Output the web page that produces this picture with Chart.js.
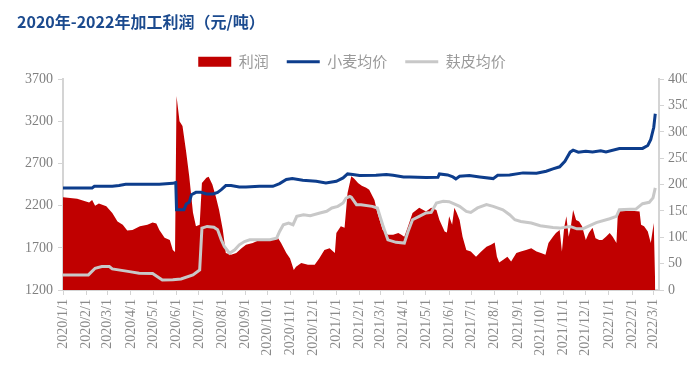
<!DOCTYPE html>
<html><head><meta charset="utf-8">
<script src="https://cdn.jsdelivr.net/npm/chart.js@4"></script>
<style>html,body{margin:0;padding:0;background:#fff;}</style>
</head><body>
<canvas id="c" width="700" height="374"></canvas>
<script>
const tickLabels = ['2020/1/1','2020/2/1','2020/3/1','2020/4/1','2020/5/1','2020/6/1','2020/7/1','2020/8/1','2020/9/1','2020/10/1','2020/11/1','2020/12/1',
  '2021/1/1','2021/2/1','2021/3/1','2021/4/1','2021/5/1','2021/6/1','2021/7/1','2021/8/1','2021/9/1','2021/10/1','2021/11/1','2021/12/1',
  '2022/1/1','2022/2/1','2022/3/1'];

const profitDates = ['2020-01-01','2020-01-20','2020-02-05','2020-02-09','2020-02-13','2020-02-18','2020-02-28','2020-03-07','2020-03-14','2020-03-21','2020-03-27',
  '2020-04-03','2020-04-13','2020-04-23','2020-04-30','2020-05-05','2020-05-09','2020-05-16','2020-05-23','2020-05-27','2020-05-30','2020-06-01','2020-06-05',
  '2020-06-09','2020-06-14','2020-06-18','2020-06-23','2020-06-27','2020-07-02','2020-07-05','2020-07-11','2020-07-14','2020-07-19','2020-07-24','2020-07-28',
  '2020-08-02','2020-08-06','2020-08-13','2020-08-20','2020-08-27','2020-09-02','2020-09-11','2020-09-20','2020-09-29','2020-10-08','2020-10-15','2020-10-19',
  '2020-10-26','2020-10-31','2020-11-02','2020-11-05','2020-11-08','2020-11-15','2020-11-24','2020-12-03','2020-12-09','2020-12-16','2020-12-23','2020-12-30',
  '2021-01-01','2021-01-07','2021-01-12','2021-01-16','2021-01-21','2021-01-25','2021-01-30','2021-02-04','2021-02-10','2021-02-14','2021-02-21','2021-02-25',
  '2021-03-04','2021-03-11','2021-03-18','2021-03-25','2021-03-29','2021-04-02','2021-04-07','2021-04-13','2021-04-22','2021-05-01','2021-05-08','2021-05-15',
  '2021-05-19','2021-05-26','2021-05-29','2021-06-01','2021-06-05','2021-06-08','2021-06-11','2021-06-15','2021-06-19','2021-06-24','2021-06-30','2021-07-07',
  '2021-07-14','2021-07-21','2021-07-27','2021-08-01','2021-08-04','2021-08-07','2021-08-12','2021-08-18','2021-08-23','2021-08-30','2021-09-05','2021-09-12',
  '2021-09-19','2021-09-26','2021-10-02','2021-10-08','2021-10-12','2021-10-18','2021-10-22','2021-10-27','2021-10-30','2021-11-02','2021-11-05','2021-11-08',
  '2021-11-11','2021-11-14','2021-11-18','2021-11-22','2021-11-26','2021-12-01','2021-12-05','2021-12-10','2021-12-14','2021-12-19','2021-12-23','2021-12-28',
  '2022-01-02','2022-01-06','2022-01-11','2022-01-13','2022-01-24','2022-02-04','2022-02-11','2022-02-13','2022-02-17','2022-02-22','2022-02-26','2022-03-02','2022-03-04'];
const profitValues = [176,173,166,171,160,164,159,146,130,124,113,
  114,121,124,128,126,114,99,95,76,72,368,320,
  311,261,216,147,121,124,203,213,215,200,175,152,
  114,70,67,70,79,86,89,95,97,97,98,89,
  70,60,51,38,44,51,48,48,60,76,79,70,
  108,121,118,184,216,211,203,198,194,190,171,146,
  114,105,105,108,105,101,121,146,156,149,156,152,
  133,111,109,140,124,156,147,133,101,76,73,63,
  73,82,86,90,63,52,57,63,54,70,73,76,
  79,73,70,67,89,101,108,114,73,118,140,101,
  121,152,133,130,121,95,108,118,98,95,95,101,
  108,101,89,149,150,150,149,124,121,111,89,127,3];

const wheatDates = ['2020-01-01','2020-02-09','2020-02-12','2020-03-07','2020-03-16','2020-03-25','2020-05-09','2020-05-27','2020-05-31','2020-06-01','2020-06-11',
  '2020-06-14','2020-06-18','2020-06-21','2020-06-27','2020-07-04','2020-07-11','2020-07-20','2020-07-26','2020-07-31','2020-08-06','2020-08-13','2020-08-24',
  '2020-09-02','2020-09-20','2020-10-08','2020-10-17','2020-10-26','2020-11-03','2020-11-17','2020-12-05','2020-12-18','2021-01-01','2021-01-10','2021-01-16',
  '2021-01-23','2021-02-01','2021-02-23','2021-03-09','2021-03-18','2021-04-01','2021-04-09','2021-05-01','2021-05-17','2021-05-19','2021-05-30','2021-06-06',
  '2021-06-10','2021-06-15','2021-06-28','2021-07-12','2021-07-30','2021-08-05','2021-08-21','2021-09-08','2021-09-26','2021-10-09','2021-10-18','2021-10-27',
  '2021-11-03','2021-11-10','2021-11-14','2021-11-21','2021-12-01','2021-12-10','2021-12-21','2021-12-28','2022-01-15','2022-02-15','2022-02-22','2022-02-26',
  '2022-03-02','2022-03-04'];
const wheatValues = [2411,2411,2430,2430,2440,2454,2454,2465,2475,2152,2152,
  2220,2240,2330,2358,2358,2340,2340,2358,2390,2438,2438,2422,
  2422,2430,2430,2462,2510,2521,2501,2489,2470,2489,2529,2577,
  2569,2557,2561,2569,2561,2541,2541,2533,2537,2577,2565,2541,
  2518,2549,2557,2541,2521,2561,2565,2589,2585,2608,2637,2661,
  2727,2835,2858,2835,2846,2838,2850,2838,2879,2879,2914,2986,
  3130,3290];

const branDates = ['2020-01-01','2020-02-04','2020-02-13','2020-02-22','2020-03-03','2020-03-07','2020-03-30','2020-04-12','2020-04-30','2020-05-06','2020-05-13',
  '2020-05-27','2020-06-07','2020-06-23','2020-07-02','2020-07-05','2020-07-12','2020-07-21','2020-07-26','2020-07-31','2020-08-04','2020-08-11','2020-08-18',
  '2020-08-24','2020-08-31','2020-09-07','2020-10-04','2020-10-13','2020-10-17','2020-10-22','2020-10-29','2020-11-04','2020-11-09','2020-11-18','2020-11-27',
  '2020-12-10','2020-12-19','2020-12-26','2021-01-03','2021-01-10','2021-01-14','2021-01-19','2021-01-21','2021-01-28','2021-02-03','2021-02-18','2021-02-25',
  '2021-03-04','2021-03-11','2021-03-22','2021-04-02','2021-04-07','2021-04-13','2021-04-22','2021-05-01','2021-05-08','2021-05-15','2021-05-24','2021-06-01',
  '2021-06-10','2021-06-15','2021-06-24','2021-06-30','2021-07-09','2021-07-21','2021-07-30','2021-08-12','2021-08-21','2021-08-28','2021-09-05','2021-09-19',
  '2021-10-01','2021-10-18','2021-10-27','2021-11-10','2021-11-19','2021-11-27','2021-12-04','2021-12-15','2022-01-02','2022-01-11','2022-01-15','2022-02-06',
  '2022-02-15','2022-02-24','2022-03-01','2022-03-04'];
const branValues = [1379,1379,1458,1478,1478,1450,1418,1398,1395,1360,1319,
  1322,1330,1379,1438,1934,1954,1945,1914,1795,1716,1637,1676,
  1736,1775,1795,1795,1815,1894,1974,1994,1974,2073,2093,2080,
  2113,2133,2173,2192,2232,2290,2310,2300,2212,2212,2192,2173,
  1974,1795,1765,1756,1894,2033,2073,2113,2120,2232,2252,2248,
  2212,2192,2132,2120,2173,2212,2192,2152,2093,2033,2013,1994,
  1962,1940,1934,1954,1925,1925,1954,2000,2045,2073,2152,2160,
  2224,2240,2292,2411];

const DAY0 = Date.UTC(2020, 0, 1);
function dayIndex(s) {
  const p = s.split(/[-\/]/).map(Number);
  return (Date.UTC(p[0], p[1] - 1, p[2]) - DAY0) / 86400000;
}
const pts = (ds, vs) => ds.map((d, i) => ({x: dayIndex(d), y: vs[i]}));
const tickDays = tickLabels.map(dayIndex);

const axisFont = {family: "'Liberation Serif', serif", size: 14};
const axisGrid = {display: true, drawOnChartArea: false, drawTicks: true, tickLength: 5, color: '#d4d4d4', lineWidth: 1};
const axisBorder = {display: true, color: '#d4d4d4', width: 2};

new Chart(document.getElementById('c'), {
  type: 'line',
  data: {
    datasets: [
      {label: '利润', data: pts(profitDates, profitValues), yAxisID: 'y1', fill: 'origin',
       backgroundColor: '#c00000', borderColor: '#c00000', borderWidth: 0, pointRadius: 0, pointStyle: 'rect', order: 3},
      {label: '小麦均价', data: pts(wheatDates, wheatValues), yAxisID: 'y', fill: false,
       borderColor: '#0d3d8c', backgroundColor: '#0d3d8c', borderWidth: 3, pointRadius: 0, pointStyle: 'line', order: 1},
      {label: '麸皮均价', data: pts(branDates, branValues), yAxisID: 'y', fill: false,
       borderColor: '#c8c8c8', backgroundColor: '#c8c8c8', borderWidth: 3, pointRadius: 0, pointStyle: 'line', order: 2}
    ]
  },
  options: {
    responsive: false,
    animation: false,
    layout: {padding: {left: 17, right: 13, top: 0, bottom: 0}},
    plugins: {
      title: {display: true, text: '2020年-2022年加工利润（元/吨）', align: 'start', color: '#1b4a8e',
              font: {family: "'Noto Sans CJK SC', sans-serif", size: 16, weight: 'bold'}, padding: {top: 12, bottom: 5}},
      legend: {display: true, position: 'top',
               labels: {usePointStyle: true, pointStyleWidth: 33, boxHeight: 10, padding: 18, color: '#9a9a9a',
                        font: {family: "'Noto Sans CJK SC', sans-serif", size: 15},
                        sort: (a, b) => a.datasetIndex - b.datasetIndex}},
      tooltip: {enabled: false}
    },
    scales: {
      x: {type: 'linear', min: 0, max: 798,
          afterBuildTicks: s => { s.ticks = tickDays.map(v => ({value: v})); },
          afterFit: s => { s.height = 84; },
          ticks: {autoSkip: false, maxRotation: 90, minRotation: 90, padding: 4, color: '#8a8a8a', font: axisFont,
                  callback: (v, i) => tickLabels[i]},
          grid: axisGrid, border: axisBorder},
      y: {position: 'left', min: 1200, max: 3700,
          afterFit: s => { s.width = 46; },
          ticks: {stepSize: 500, padding: 5, color: '#808080', font: axisFont, callback: v => String(v)},
          grid: axisGrid, border: axisBorder},
      y1: {position: 'right', min: 0, max: 400,
           afterFit: s => { s.width = 28; },
           ticks: {stepSize: 50, padding: 4, color: '#808080', font: axisFont, callback: v => String(v)},
           grid: axisGrid, border: axisBorder}
    }
  }
});
</script>
</body></html>
